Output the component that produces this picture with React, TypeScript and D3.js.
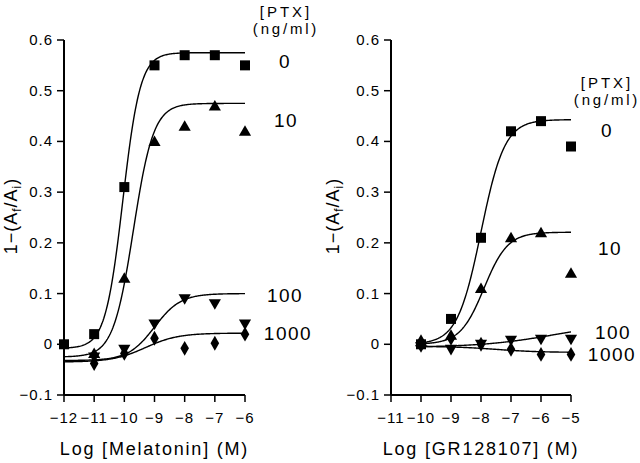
import React from 'react';
import * as d3 from 'd3';

// ---------- data ----------
const melLogConc = [-12, -11, -10, -9, -8, -7, -6];
const melPtx0 = [0, 0.02, 0.31, 0.55, 0.57, 0.57, 0.55];
const melPtx10 = [null, -0.018, 0.13, 0.40, 0.43, 0.47, 0.42];
const melPtx100 = [null, -0.025, -0.01, 0.04, 0.09, 0.08, 0.04];
const melPtx1000 = [null, -0.038, -0.018, 0.012, -0.008, 0.002, 0.02];

const grLogConc = [-10, -9, -8, -7, -6, -5];
const grPtx0 = [0, 0.05, 0.21, 0.42, 0.44, 0.39];
const grPtx10 = [0.005, 0.018, 0.11, 0.21, 0.22, 0.14];
const grPtx100 = [-0.005, -0.01, 0, 0.008, 0.01, 0.01];
const grPtx1000 = [0.005, 0.012, 0, -0.01, -0.02, -0.02];

// fitted curve parameters: [bottom, top, logEC50, hill]
const melFits = [
  [-0.008, 0.575, -10.05, 1.5],
  [-0.025, 0.475, -9.7, 1.3],
  [-0.032, 0.1, -9.0, 1.0],
  [-0.035, 0.022, -9.3, 0.8],
];
const grFits = [
  [0, 0.443, -8.0, 1.1],
  [0, 0.221, -7.9, 1.1],
  [-0.006, 0.045, -5.5, 0.35],
  [-0.004, -0.016, -7.5, 0.6],
];

const ptxLabels = ['0', '10', '100', '1000'];
const yTicks = [-0.1, 0, 0.1, 0.2, 0.3, 0.4, 0.5, 0.6];
const melXTicks = [-12, -11, -10, -9, -8, -7, -6];
const grXTicks = [-11, -10, -9, -8, -7, -6, -5];

const FONT = '"Liberation Sans", Arial, Helvetica, sans-serif';

const hill = (p: number[], x: number) =>
  p[0] + (p[1] - p[0]) / (1 + Math.pow(10, (p[2] - x) * p[3]));

const yScale = d3.scaleLinear().domain([-0.1, 0.6]).range([395, 40]);

const symSquare = d3.symbol().type(d3.symbolSquare).size(100);
const symTri = d3.symbol().type(d3.symbolTriangle).size(64);
const symDiamond = d3.symbol().type(d3.symbolDiamond).size(64);

function Marker({ kind, x, y }: { kind: number; x: number; y: number }) {
  if (kind === 0) return <path d={symSquare() as string} transform={`translate(${x},${y})`} fill="#000" />;
  if (kind === 1) return <path d={symTri() as string} transform={`translate(${x},${y + 1})`} fill="#000" />;
  if (kind === 2) return <path d={symTri() as string} transform={`translate(${x},${y - 1}) rotate(180)`} fill="#000" />;
  return <path d={symDiamond() as string} transform={`translate(${x},${y})`} fill="#000" />;
}

type PanelProps = {
  xDomain: [number, number];
  xRange: [number, number];
  xTicks: number[];
  logConc: number[];
  series: (number | null)[][];
  fits: number[][];
  fitDomain: [number, number];
  title: string;
  yTitleX: number;
  ptxHeader: { x: number; y: number };
  labelPos: { x: number; y: number }[];
};

function Panel(props: PanelProps) {
  const x = d3.scaleLinear().domain(props.xDomain).range(props.xRange);
  const x0 = props.xRange[0];
  const x1 = props.xRange[1];
  const yBottom = yScale(-0.1);
  const yTop = yScale(0.6);
  const samples = d3.range(0, 201).map((i) => props.fitDomain[0] + ((props.fitDomain[1] - props.fitDomain[0]) * i) / 200);

  return (
    <g>
      {/* curves */}
      {props.fits.map((p, i) => {
        const path = d3
          .line<number>()
          .x((d) => x(d))
          .y((d) => yScale(hill(p, d)))(samples);
        return <path key={'c' + i} d={path as string} fill="none" stroke="#000" strokeWidth={1.4} />;
      })}
      {/* axes */}
      <line x1={x0} x2={x0} y1={yTop} y2={yBottom} stroke="#000" strokeWidth={2} />
      <line x1={x0} x2={x1} y1={yBottom} y2={yBottom} stroke="#000" strokeWidth={2} />
      {yTicks.map((t) => (
        <g key={'yt' + t}>
          <line x1={x0 - 7} x2={x0} y1={yScale(t)} y2={yScale(t)} stroke="#000" strokeWidth={1.5} />
          <text
            x={x0 - 11}
            y={yScale(t) + 5}
            textAnchor="end"
            fontFamily={FONT}
            fontSize={15}
            letterSpacing={1}
          >
            {t === 0 ? '0' : t < 0 ? '\u2212' + Math.abs(t).toFixed(1) : t.toFixed(1)}
          </text>
        </g>
      ))}
      {props.xTicks.map((t) => (
        <g key={'xt' + t}>
          <line x1={x(t)} x2={x(t)} y1={yBottom} y2={yBottom + 7} stroke="#000" strokeWidth={1.5} />
          <text x={x(t)} y={yBottom + 28} textAnchor="middle" fontFamily={FONT} fontSize={15} letterSpacing={1}>
            {'\u2212' + Math.abs(t)}
          </text>
        </g>
      ))}
      <text
        x={(x0 + x1) / 2}
        y={455}
        textAnchor="middle"
        fontFamily={FONT}
        fontSize={18}
        letterSpacing={1.8}
      >
        {props.title}
      </text>
      {/* y title */}
      <text
        transform={`translate(${props.yTitleX},216) rotate(-90)`}
        textAnchor="middle"
        fontFamily={FONT}
        fontSize={18}
        letterSpacing={1}
      >
        <tspan>1{'\u2212'}(A</tspan>
        <tspan fontSize={12} dy={4}>f</tspan>
        <tspan dy={-4}>/A</tspan>
        <tspan fontSize={12} dy={4}>i</tspan>
        <tspan dy={-4}>)</tspan>
      </text>
      {/* markers */}
      {props.series.map((s, si) =>
        s.map((v, i) =>
          v === null ? null : <Marker key={`m${si}-${i}`} kind={si} x={x(props.logConc[i])} y={yScale(v)} />
        )
      )}
      {/* PTX labels */}
      <text x={props.ptxHeader.x} y={props.ptxHeader.y} textAnchor="middle" fontFamily={FONT} fontSize={15} letterSpacing={3}>
        [PTX]
      </text>
      <text x={props.ptxHeader.x} y={props.ptxHeader.y + 17} textAnchor="middle" fontFamily={FONT} fontSize={15} letterSpacing={2.8}>
        (ng/ml)
      </text>
      {ptxLabels.map((l, i) => (
        <text
          key={'l' + l}
          x={props.labelPos[i].x}
          y={props.labelPos[i].y}
          textAnchor="middle"
          fontFamily={FONT}
          fontSize={19}
          letterSpacing={1.5}
        >
          {l}
        </text>
      ))}
    </g>
  );
}

export default function App() {
  return (
    <svg
      width={640}
      height={463}
      style={{ position: 'absolute', left: 0, top: 0, background: '#fff' }}
    >
      <rect width={640} height={463} fill="#fff" />
      <Panel
        xDomain={[-12, -6]}
        xRange={[64, 245]}
        xTicks={melXTicks}
        logConc={melLogConc}
        series={[melPtx0, melPtx10, melPtx100, melPtx1000]}
        fits={melFits}
        fitDomain={[-12, -6]}
        title="Log [Melatonin] (M)"
        yTitleX={17}
        ptxHeader={{ x: 286, y: 17 }}
        labelPos={[
          { x: 285, y: 68 },
          { x: 286, y: 127 },
          { x: 285, y: 302 },
          { x: 288, y: 340 },
        ]}
      />
      <Panel
        xDomain={[-11, -5]}
        xRange={[391, 571]}
        xTicks={grXTicks}
        logConc={grLogConc}
        series={[grPtx0, grPtx10, grPtx100, grPtx1000]}
        fits={grFits}
        fitDomain={[-10, -5]}
        title="Log [GR128107] (M)"
        yTitleX={339}
        ptxHeader={{ x: 607, y: 88 }}
        labelPos={[
          { x: 607, y: 137 },
          { x: 610, y: 255 },
          { x: 613, y: 339 },
          { x: 612, y: 361 },
        ]}
      />
    </svg>
  );
}
